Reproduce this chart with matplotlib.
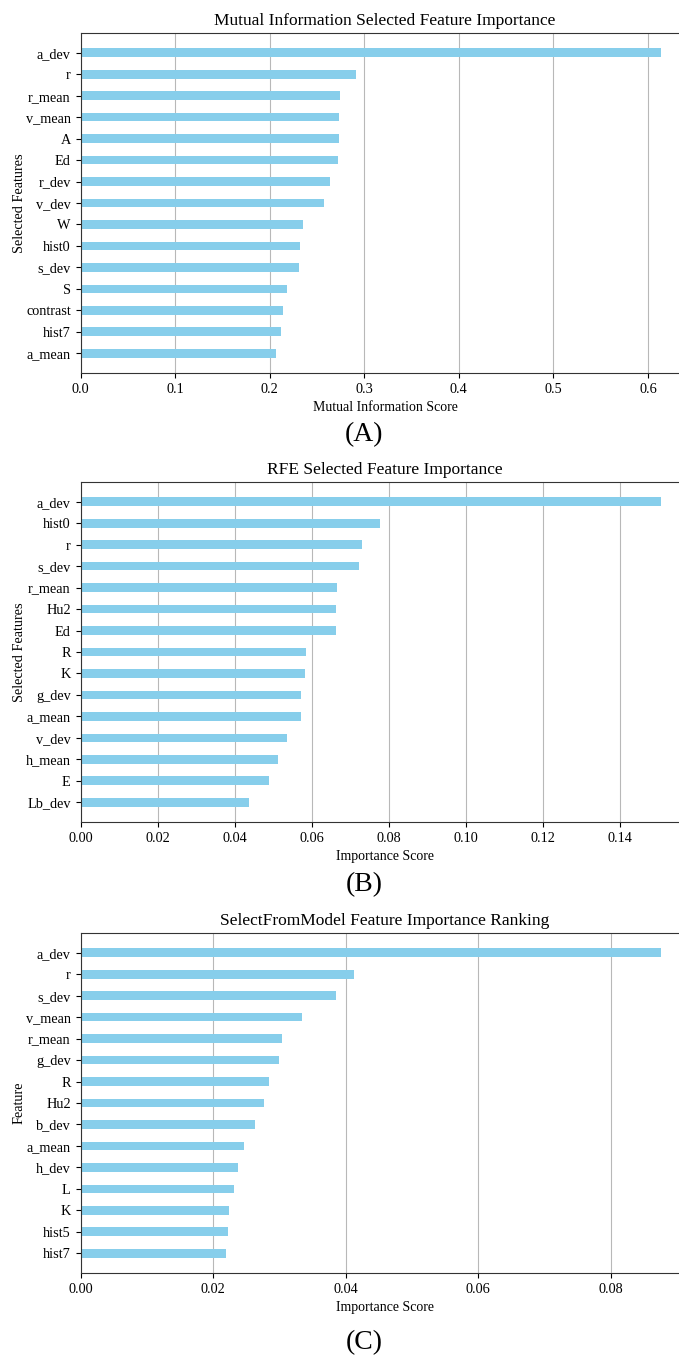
import matplotlib.pyplot as plt
import numpy as np

plt.rcParams['font.family'] = ['Liberation Serif', 'DejaVu Serif']

# Mutual information ranking
mi_features = ['a_dev', 'r', 'r_mean', 'v_mean', 'A', 'Ed', 'r_dev', 'v_dev',
               'W', 'hist0', 's_dev', 'S', 'contrast', 'hist7', 'a_mean']
mi_scores = [0.6133, 0.2915, 0.2740, 0.2732, 0.2732, 0.2728, 0.2636, 0.2572,
             0.2352, 0.2316, 0.2307, 0.2188, 0.2137, 0.2124, 0.2064]

# RFE ranking
rfe_features = ['a_dev', 'hist0', 'r', 's_dev', 'r_mean', 'Hu2', 'Ed', 'R',
                'K', 'g_dev', 'a_mean', 'v_dev', 'h_mean', 'E', 'Lb_dev']
rfe_scores = [0.1504, 0.0776, 0.0729, 0.0722, 0.0664, 0.0663, 0.0662, 0.0586,
              0.0583, 0.0573, 0.0571, 0.0535, 0.0511, 0.0490, 0.0436]

# SelectFromModel ranking
sfm_features = ['a_dev', 'r', 's_dev', 'v_mean', 'r_mean', 'g_dev', 'R', 'Hu2',
                'b_dev', 'a_mean', 'h_dev', 'L', 'K', 'hist5', 'hist7']
sfm_scores = [0.0875, 0.0413, 0.0386, 0.0334, 0.0304, 0.0300, 0.0284, 0.0277,
              0.0264, 0.0246, 0.0238, 0.0232, 0.0224, 0.0222, 0.0219]

W, H = 679, 1357
fig = plt.figure(figsize=(W / 100, H / 100), dpi=100)


def panel(top, features, scores, title, xlabel, ylabel, tag, tag_y):
    left, right, height = 80.5, 689.5, 340
    ax = fig.add_axes([left / W, 1 - (top + height) / H, (right - left) / W, height / H])
    y = np.arange(len(features))
    ax.barh(y, scores, height=0.4, color='skyblue')
    ax.set_yticks(y)
    ax.set_yticklabels(features)
    ax.invert_yaxis()
    ax.set_axisbelow(True)
    ax.grid(axis='x', color='#b8b8b8', linewidth=0.8)
    for s in ax.spines.values():
        s.set_color('#333333')
        s.set_linewidth(0.8)
    ax.tick_params(labelsize=10.3)
    ax.set_title(title, fontsize=12.5)
    ax.set_xlabel(xlabel, fontsize=10)
    ax.set_ylabel(ylabel, fontsize=10.3)
    ax.yaxis.set_label_coords(-(left - 26) / (right - left), 0.5)
    fig.text(364 / W, 1 - tag_y / H, tag, fontsize=20, ha='center', va='center')
    return ax


panel(33, mi_features, mi_scores, 'Mutual Information Selected Feature Importance',
      'Mutual Information Score', 'Selected Features', '(A)', 435)
panel(482, rfe_features, rfe_scores, 'RFE Selected Feature Importance',
      'Importance Score', 'Selected Features', '(B)', 885)
panel(933, sfm_features, sfm_scores, 'SelectFromModel Feature Importance Ranking',
      'Importance Score', 'Feature', '(C)', 1343)

fig.savefig('out.png', dpi=100)
